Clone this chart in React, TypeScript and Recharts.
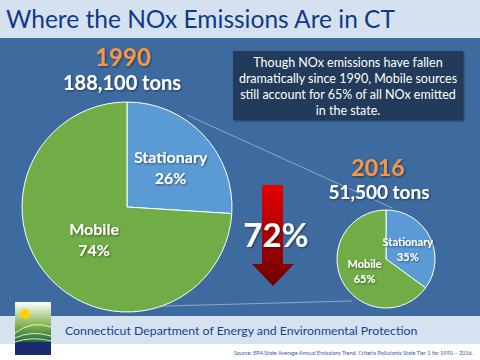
import React from "react";
import { PieChart, Pie, Cell } from "recharts";

// NOx emissions share by source, Connecticut
const categories = ["Stationary", "Mobile"];
const share1990 = [26, 74];
const share2016 = [35, 65];
const sliceColors = ["#5b9bd5", "#70ad47"];
const years = ["1990", "2016"];
const totals = ["188,100 tons", "51,500 tons"];
const reduction = "72%";
const noteLines = [
  "Though NOx emissions have fallen",
  "dramatically since 1990, Mobile sources",
  "still account for 65% of all NOx emitted",
  "in the state.",
];
const agency = "Connecticut Department of Energy and Environmental Protection";
const source =
  "Source: EPA State Average Annual Emissions Trend, Criteria Pollutants State Tier 1 for 1990 \u2013 2016.";

const data1990 = categories.map((name, i) => ({ name, value: share1990[i] }));
const data2016 = categories.map((name, i) => ({ name, value: share2016[i] }));

const FONT = "Lato, 'Open Sans', sans-serif";
const RAD = Math.PI / 180;

const makeLabel = (fontSize: number, ratios: number[]) => (props: any) => {
  const { cx, cy, midAngle, outerRadius, name, value, index } = props;
  const r = outerRadius * ratios[index];
  const x = cx + r * Math.cos(-midAngle * RAD);
  const y = cy + r * Math.sin(-midAngle * RAD);
  return (
    <text
      x={x}
      y={y}
      fill="#fff"
      textAnchor="middle"
      fontFamily={FONT}
      fontWeight={700}
      fontSize={fontSize}
      filter="url(#shadow)"
    >
      <tspan x={x} dy={-fontSize * 0.2}>{name}</tspan>
      <tspan x={x} dy={fontSize * 1.35}>{value}%</tspan>
    </text>
  );
};

const App = () => {
  return (
    <div style={{ position: "fixed", left: 0, top: 0, width: 480, height: 360, overflow: "hidden", background: "#fff" }}>
      <svg width={480} height={360} style={{ position: "absolute", left: 0, top: 0 }}>
        <defs>
          <linearGradient id="logoGreen" x1="0" y1="0" x2="0" y2="1">
            <stop offset="0" stopColor="#ffffff" />
            <stop offset="0.45" stopColor="#7fb24a" />
            <stop offset="0.75" stopColor="#1f6b3a" />
            <stop offset="1" stopColor="#1a2a6c" />
          </linearGradient>
        </defs>
        <rect x={0} y={0} width={480} height={38} fill="#d5e1ef" />
        <rect x={0} y={38} width={480} height={278} fill="#3e6b9f" />
        <rect x={0} y={316} width={480} height={28} fill="#d6e2f0" />
        <line x1={187} y1={115} x2={392} y2={208} stroke="#9fb6d2" strokeWidth={0.8} />
        <line x1={128} y1={307} x2={352} y2={301} stroke="#9fb6d2" strokeWidth={0.8} />
        {/* logo */}
        <rect x={15} y={302} width={36} height={53} fill="url(#logoGreen)" />
        <rect x={15} y={342} width={36} height={13} fill="#1d2a6e" />
        <circle cx={25} cy={314} r={5} fill="#ffd200" />
        <path d="M15 333 Q32 320 51 327" stroke="#fff" strokeWidth={0.8} fill="none" />
        <path d="M15 338 Q32 330 51 336" stroke="#fff" strokeWidth={0.8} fill="none" />
        <path d="M15 342 Q32 336 51 341" stroke="#fff" strokeWidth={0.8} fill="none" />
      </svg>

      <div style={{ position: "absolute", left: 0, top: 0 }}>
        <PieChart width={480} height={360}>
          <defs>
            <filter id="shadow" x="-20%" y="-20%" width="140%" height="140%">
              <feDropShadow dx={1} dy={1} stdDeviation={0.8} floodColor="#000" floodOpacity={0.5} />
            </filter>
          </defs>
          <Pie
            data={data1990}
            dataKey="value"
            nameKey="name"
            cx={122}
            cy={202}
            outerRadius={105}
            startAngle={90}
            endAngle={-270}
            stroke="#ffffff"
            strokeWidth={1}
            labelLine={false}
            label={makeLabel(16, [0.57, 0.43])}
            isAnimationActive={false}
          >
            {data1990.map((d, i) => (
              <Cell key={d.name} fill={sliceColors[i]} />
            ))}
          </Pie>
          <Pie
            data={data2016}
            dataKey="value"
            nameKey="name"
            cx={381}
            cy={254}
            outerRadius={49}
            startAngle={90}
            endAngle={-270}
            stroke="#ffffff"
            strokeWidth={1}
            labelLine={false}
            label={makeLabel(11, [0.5, 0.49])}
            isAnimationActive={false}
          >
            {data2016.map((d, i) => (
              <Cell key={d.name} fill={sliceColors[i]} />
            ))}
          </Pie>
        </PieChart>
      </div>

      <svg width={480} height={360} style={{ position: "absolute", left: 0, top: 0, pointerEvents: "none" }}>
        <defs>
          <linearGradient id="arrowRed" x1="0" y1="0" x2="0" y2="1">
            <stop offset="0" stopColor="#e60000" />
            <stop offset="1" stopColor="#6e0000" />
          </linearGradient>
          <filter id="shadow2" x="-20%" y="-20%" width="140%" height="140%">
            <feDropShadow dx={1} dy={1} stdDeviation={1} floodColor="#000" floodOpacity={0.5} />
          </filter>
        </defs>
        <text x={6} y={28} fontFamily={FONT} fontSize={24.5} fill="#0e3a8a">
          Where the NOx Emissions Are in CT
        </text>

        <rect x={233} y={51} width={230} height={69} fill="#203a5a" filter="url(#shadow2)" />
        {noteLines.map((t, i) => (
          <text key={i} x={348} y={67 + i * 16} textAnchor="middle" fontFamily={FONT} fontSize={12.5} fill="#fff">
            {t}
          </text>
        ))}

        <text x={123} y={66} textAnchor="middle" fontFamily={FONT} fontWeight={700} fontSize={24} fill="#f79646" filter="url(#shadow2)">
          {years[0]}
        </text>
        <text x={122} y={90} textAnchor="middle" fontFamily={FONT} fontWeight={700} fontSize={20} fill="#fff" filter="url(#shadow2)">
          {totals[0]}
        </text>
        <text x={378} y={176} textAnchor="middle" fontFamily={FONT} fontWeight={700} fontSize={23} fill="#f79646" filter="url(#shadow2)">
          {years[1]}
        </text>
        <text x={379} y={199} textAnchor="middle" fontFamily={FONT} fontWeight={700} fontSize={19} fill="#fff" filter="url(#shadow2)">
          {totals[1]}
        </text>

        <path d="M262 185 L283 185 L283 264 L294 264 L273 286 L252 264 L262 264 Z" fill="url(#arrowRed)" />
        <text x={276} y={247} textAnchor="middle" fontFamily={FONT} fontWeight={700} fontSize={33} fill="#fff" filter="url(#shadow2)">
          {reduction}
        </text>

        <text x={65} y={335} fontFamily={FONT} fontSize={12.3} fill="#1b3f8f">
          {agency}
        </text>
        <text x={473} y={355} textAnchor="end" fontFamily={FONT} fontSize={5.5} fill="#3a5a9a">
          {source}
        </text>
      </svg>
    </div>
  );
};

export default App;
